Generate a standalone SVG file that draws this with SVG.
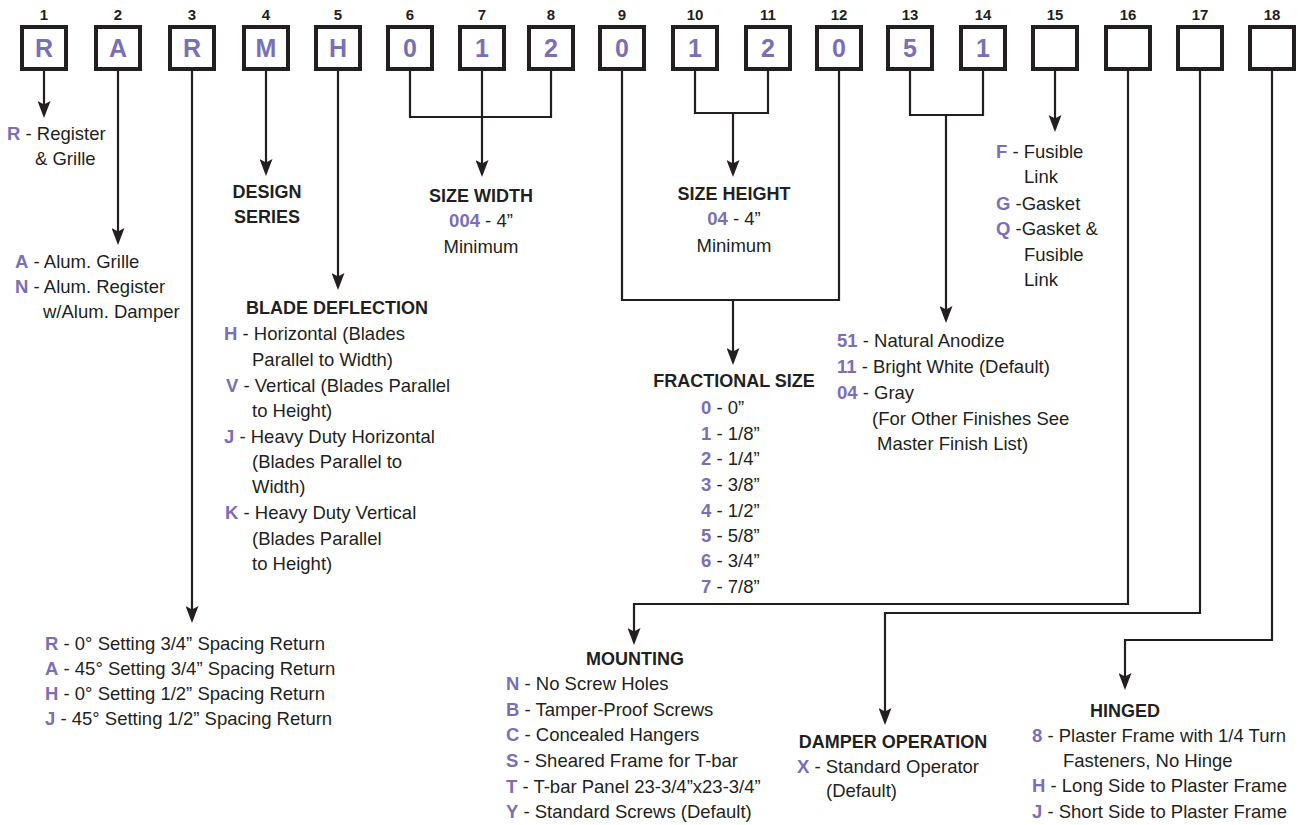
<svg xmlns="http://www.w3.org/2000/svg" width="1298" height="825" viewBox="0 0 1298 825">
<style>
text{font-family:"Liberation Sans",Arial,Helvetica,sans-serif;fill:#231f20}
.n{font-size:15px;font-weight:bold;text-anchor:middle}
.bx{fill:#fff;stroke:#231f20;stroke-width:4}
.bl{font-size:25px;font-weight:bold;text-anchor:middle;fill:#7a6fb6}
.t{font-size:18.5px}
.h{font-size:18px;font-weight:bold}
.m{text-anchor:middle}
.k{font-weight:bold;fill:#7a6fb6}
.c{fill:none;stroke:#231f20;stroke-width:2.2}
.a{marker-end:url(#arr)}
</style>
<defs>
<marker id="arr" viewBox="0 0 17 13" refX="14" refY="6.5" markerWidth="17" markerHeight="13" markerUnits="userSpaceOnUse" orient="auto">
<path d="M0,0 L17,6.5 L0,13 L3.5,6.5 Z" fill="#231f20"/>
</marker>
</defs>
<rect width="1298" height="825" fill="#fff"/>

<g id="connectors">
<path class="c a" d="M44,71 V115"/>
<path class="c a" d="M118,71 V242"/>
<path class="c a" d="M192,71 V620"/>
<path class="c a" d="M266,71 V173"/>
<path class="c a" d="M338,71 V287"/>
<path class="c" d="M410,71 V117 H551 V71"/>
<path class="c a" d="M482,71 V174"/>
<path class="c" d="M622,71 V300 H839 V71"/>
<path class="c a" d="M733,300 V362"/>
<path class="c" d="M695,71 V113 H768 V71"/>
<path class="c a" d="M733,113 V174"/>
<path class="c" d="M910,71 V115 H983 V71"/>
<path class="c a" d="M946,115 V320"/>
<path class="c a" d="M1055,71 V129"/>
<path class="c a" d="M1128,71 V604 H634 V642"/>
<path class="c a" d="M1200,71 V613 H885 V722"/>
<path class="c a" d="M1272,71 V640 H1125 V687"/>
</g>

<g id="pos1"><text class="n" x="44" y="20">1</text><rect class="bx" x="22" y="27" width="44" height="42"/><text class="bl" x="44" y="57">R</text></g>
<g id="pos2"><text class="n" x="118" y="20">2</text><rect class="bx" x="96" y="27" width="44" height="42"/><text class="bl" x="118" y="57">A</text></g>
<g id="pos3"><text class="n" x="192" y="20">3</text><rect class="bx" x="170" y="27" width="44" height="42"/><text class="bl" x="192" y="57">R</text></g>
<g id="pos4"><text class="n" x="266" y="20">4</text><rect class="bx" x="244" y="27" width="44" height="42"/><text class="bl" x="266" y="57">M</text></g>
<g id="pos5"><text class="n" x="338" y="20">5</text><rect class="bx" x="316" y="27" width="44" height="42"/><text class="bl" x="338" y="57">H</text></g>
<g id="pos6"><text class="n" x="410" y="20">6</text><rect class="bx" x="388" y="27" width="44" height="42"/><text class="bl" x="410" y="57">0</text></g>
<g id="pos7"><text class="n" x="482" y="20">7</text><rect class="bx" x="460" y="27" width="44" height="42"/><text class="bl" x="482" y="57">1</text></g>
<g id="pos8"><text class="n" x="551" y="20">8</text><rect class="bx" x="529" y="27" width="44" height="42"/><text class="bl" x="551" y="57">2</text></g>
<g id="pos9"><text class="n" x="622" y="20">9</text><rect class="bx" x="600" y="27" width="44" height="42"/><text class="bl" x="622" y="57">0</text></g>
<g id="pos10"><text class="n" x="695" y="20">10</text><rect class="bx" x="673" y="27" width="44" height="42"/><text class="bl" x="695" y="57">1</text></g>
<g id="pos11"><text class="n" x="768" y="20">11</text><rect class="bx" x="746" y="27" width="44" height="42"/><text class="bl" x="768" y="57">2</text></g>
<g id="pos12"><text class="n" x="839" y="20">12</text><rect class="bx" x="817" y="27" width="44" height="42"/><text class="bl" x="839" y="57">0</text></g>
<g id="pos13"><text class="n" x="910" y="20">13</text><rect class="bx" x="888" y="27" width="44" height="42"/><text class="bl" x="910" y="57">5</text></g>
<g id="pos14"><text class="n" x="983" y="20">14</text><rect class="bx" x="961" y="27" width="44" height="42"/><text class="bl" x="983" y="57">1</text></g>
<g id="pos15"><text class="n" x="1055" y="20">15</text><rect class="bx" x="1033" y="27" width="44" height="42"/></g>
<g id="pos16"><text class="n" x="1128" y="20">16</text><rect class="bx" x="1106" y="27" width="44" height="42"/></g>
<g id="pos17"><text class="n" x="1200" y="20">17</text><rect class="bx" x="1178" y="27" width="44" height="42"/></g>
<g id="pos18"><text class="n" x="1272" y="20">18</text><rect class="bx" x="1250" y="27" width="44" height="42"/></g>

<g id="desc-type">
<text class="t" x="7" y="140"><tspan class="k">R</tspan> - Register</text>
<text class="t" x="35" y="165">&amp; Grille</text>
</g>
<g id="desc-material">
<text class="t" x="15" y="268"><tspan class="k">A</tspan> - Alum. Grille</text>
<text class="t" x="15" y="293"><tspan class="k">N</tspan> - Alum. Register</text>
<text class="t" x="43" y="318">w/Alum. Damper</text>
</g>
<g id="desc-return">
<text class="t" x="45" y="650"><tspan class="k">R</tspan> - 0° Setting 3/4” Spacing Return</text>
<text class="t" x="45" y="675"><tspan class="k">A</tspan> - 45° Setting 3/4” Spacing Return</text>
<text class="t" x="45" y="700"><tspan class="k">H</tspan> - 0° Setting 1/2” Spacing Return</text>
<text class="t" x="45" y="725"><tspan class="k">J</tspan> - 45° Setting 1/2” Spacing Return</text>
</g>
<g id="desc-design">
<text class="h m" x="267" y="198">DESIGN</text>
<text class="h m" x="267" y="223">SERIES</text>
</g>
<g id="desc-blade">
<text class="h m" x="337" y="314">BLADE DEFLECTION</text>
<text class="t" x="224" y="340"><tspan class="k">H</tspan> - Horizontal (Blades</text>
<text class="t" x="252" y="366">Parallel to Width)</text>
<text class="t" x="226" y="392"><tspan class="k">V</tspan> - Vertical (Blades Parallel</text>
<text class="t" x="252" y="417">to Height)</text>
<text class="t" x="224" y="443"><tspan class="k">J</tspan> - Heavy Duty Horizontal</text>
<text class="t" x="252" y="468">(Blades Parallel to</text>
<text class="t" x="252" y="493">Width)</text>
<text class="t" x="225" y="519"><tspan class="k">K</tspan> - Heavy Duty Vertical</text>
<text class="t" x="252" y="545">(Blades Parallel</text>
<text class="t" x="252" y="570">to Height)</text>
</g>
<g id="desc-width">
<text class="h m" x="481" y="202">SIZE WIDTH</text>
<text class="t m" x="481" y="227"><tspan class="k">004</tspan> - 4”</text>
<text class="t m" x="481" y="253">Minimum</text>
</g>
<g id="desc-height">
<text class="h m" x="734" y="200">SIZE HEIGHT</text>
<text class="t m" x="734" y="225"><tspan class="k">04</tspan> - 4”</text>
<text class="t m" x="734" y="252">Minimum</text>
</g>
<g id="desc-fraction">
<text class="h m" x="734" y="387">FRACTIONAL SIZE</text>
<text class="t" x="701" y="414"><tspan class="k">0</tspan> - 0”</text>
<text class="t" x="701" y="440"><tspan class="k">1</tspan> - 1/8”</text>
<text class="t" x="701" y="465"><tspan class="k">2</tspan> - 1/4”</text>
<text class="t" x="701" y="491"><tspan class="k">3</tspan> - 3/8”</text>
<text class="t" x="701" y="517"><tspan class="k">4</tspan> - 1/2”</text>
<text class="t" x="701" y="542"><tspan class="k">5</tspan> - 5/8”</text>
<text class="t" x="701" y="567"><tspan class="k">6</tspan> - 3/4”</text>
<text class="t" x="701" y="593"><tspan class="k">7</tspan> - 7/8”</text>
</g>
<g id="desc-finish">
<text class="t" x="837" y="347"><tspan class="k">51</tspan> - Natural Anodize</text>
<text class="t" x="837" y="373"><tspan class="k">11</tspan> - Bright White (Default)</text>
<text class="t" x="837" y="399"><tspan class="k">04</tspan> - Gray</text>
<text class="t" x="872" y="425">(For Other Finishes See</text>
<text class="t" x="877" y="450">Master Finish List)</text>
</g>
<g id="desc-options">
<text class="t" x="996" y="158"><tspan class="k">F</tspan> - Fusible</text>
<text class="t" x="1024" y="183">Link</text>
<text class="t" x="996" y="210"><tspan class="k">G</tspan> -Gasket</text>
<text class="t" x="996" y="235"><tspan class="k">Q</tspan> -Gasket &amp;</text>
<text class="t" x="1024" y="261">Fusible</text>
<text class="t" x="1024" y="286">Link</text>
</g>
<g id="desc-mounting">
<text class="h m" x="635" y="665">MOUNTING</text>
<text class="t" x="506" y="690"><tspan class="k">N</tspan> - No Screw Holes</text>
<text class="t" x="506" y="716"><tspan class="k">B</tspan> - Tamper-Proof Screws</text>
<text class="t" x="506" y="741"><tspan class="k">C</tspan> - Concealed Hangers</text>
<text class="t" x="506" y="767"><tspan class="k">S</tspan> - Sheared Frame for T-bar</text>
<text class="t" x="506" y="793"><tspan class="k">T</tspan> - T-bar Panel 23-3/4”x23-3/4”</text>
<text class="t" x="506" y="818"><tspan class="k">Y</tspan> - Standard Screws (Default)</text>
</g>
<g id="desc-damper">
<text class="h m" x="893" y="748">DAMPER OPERATION</text>
<text class="t" x="797" y="773"><tspan class="k">X</tspan> - Standard Operator</text>
<text class="t" x="826" y="797">(Default)</text>
</g>
<g id="desc-hinged">
<text class="h m" x="1125" y="717">HINGED</text>
<text class="t" x="1032" y="742"><tspan class="k">8</tspan> - Plaster Frame with 1/4 Turn</text>
<text class="t" x="1063" y="767">Fasteners, No Hinge</text>
<text class="t" x="1032" y="792"><tspan class="k">H</tspan> - Long Side to Plaster Frame</text>
<text class="t" x="1032" y="818"><tspan class="k">J</tspan> - Short Side to Plaster Frame</text>
</g>
</svg>
